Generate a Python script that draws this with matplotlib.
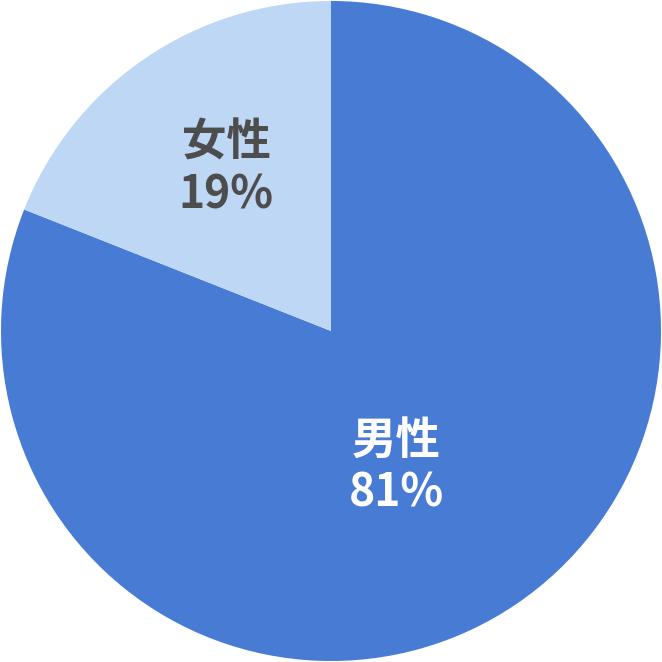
import matplotlib.pyplot as plt

labels = ['男性', '女性']
shares = [81, 19]
colors = ['#477BD4', '#BDD7F5']
text_colors = ['white', '#4D4D4D']

plt.rcParams['font.family'] = ['Noto Sans CJK JP', 'DejaVu Sans']

fig = plt.figure(figsize=(6.62, 6.62), dpi=100)
ax = fig.add_axes([0, 0, 1, 1])
ax.pie(shares, colors=colors, startangle=90, counterclock=False,
       radius=1.0, wedgeprops=dict(linewidth=0))
ax.set_xlim(-1.003, 1.003)
ax.set_ylim(-1.003, 1.003)
ax.set_aspect('equal')
ax.axis('off')

# label positions in axes units (pie radius = 1)
label_pos = [(0.197, -0.408), (-0.318, 0.495)]
for lab, val, (x, y), c in zip(labels, shares, label_pos, text_colors):
    ax.text(x, y + 0.075, lab, ha='center', va='center', fontsize=32,
            fontweight='bold', color=c)
    ax.text(x, y - 0.085, f'{val}%', ha='center', va='center', fontsize=32,
            fontweight='bold', color=c)

plt.savefig('out.png', dpi=100)
